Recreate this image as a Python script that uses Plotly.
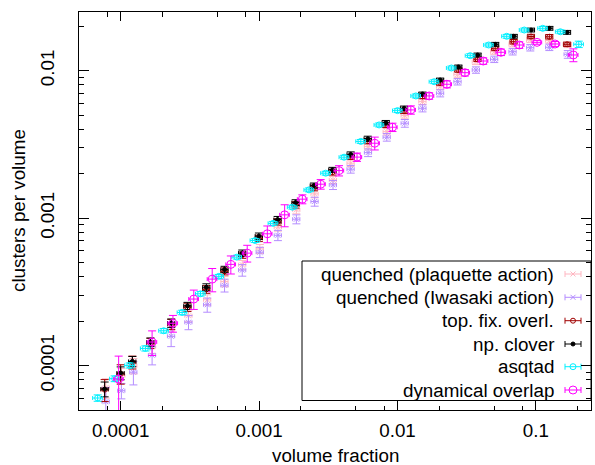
import plotly.graph_objects as go

# ---------------- data ----------------
QP_X = [7.81e-5, 1.012e-4, 1.236e-4, 1.687e-4, 2.316e-4, 3.09e-4, 4.22e-4, 5.63e-4, 7.56e-4, 1.013e-3,
        1.368e-3, 1.859e-3, 2.52e-3, 3.42e-3, 4.59e-3, 6.13e-3, 8.37e-3, 1.129e-2, 1.516e-2, 2.034e-2,
        2.718e-2, 3.687e-2, 5.0e-2, 6.79e-2, 9.11e-2, 0.125, 0.1699]
QP_Y = [7.08e-5, 8.54e-5, 9.98e-5, 1.343e-4, 1.750e-4, 2.178e-4, 2.796e-4, 3.72e-4, 4.83e-4, 6.19e-4,
        8.69e-4, 1.138e-3, 1.461e-3, 1.817e-3, 2.359e-3, 3.055e-3, 3.86e-3, 4.96e-3, 6.17e-3, 7.79e-3,
        9.45e-3, 1.151e-2, 1.345e-2, 1.510e-2, 1.614e-2, 1.602e-2, 1.493e-2]
QP_YERR = [0.15, 0.12, 0.12, 0.10, 0.10, 0.09, 0.08, 0.08, 0.07, 0.07, 0.06, 0.06, 0.06, 0.055, 0.05,
           0.05, 0.05, 0.05, 0.045, 0.045, 0.045, 0.045, 0.04, 0.04, 0.04, 0.04, 0.04]

QI_X = [7.81e-5, 1.012e-4, 1.236e-4, 1.687e-4, 2.316e-4, 3.09e-4, 4.22e-4, 5.63e-4, 7.56e-4, 1.013e-3,
        1.368e-3, 1.859e-3, 2.52e-3, 3.42e-3, 4.59e-3, 6.13e-3, 8.37e-3, 1.129e-2, 1.516e-2, 2.034e-2,
        2.718e-2, 3.687e-2, 5.0e-2, 6.79e-2, 9.11e-2, 0.125, 0.1699]
QI_Y = [5.69e-5, 6.76e-5, 9.02e-5, 1.176e-4, 1.582e-4, 1.968e-4, 2.586e-4, 3.505e-4, 4.44e-4, 5.87e-4,
        7.65e-4, 9.84e-4, 1.296e-3, 1.681e-3, 2.148e-3, 2.781e-3, 3.54e-3, 4.40e-3, 5.56e-3, 7.03e-3,
        8.42e-3, 1.011e-2, 1.195e-2, 1.345e-2, 1.432e-2, 1.441e-2, 1.291e-2]
QI_YERR = [0.25, 0.12, 0.18, 0.14, 0.15, 0.11, 0.11, 0.10, 0.09, 0.08, 0.08, 0.07, 0.07, 0.07, 0.06,
           0.06, 0.06, 0.06, 0.055, 0.055, 0.05, 0.05, 0.05, 0.05, 0.05, 0.05, 0.06]

TF_X = [7.66e-5, 1.00e-4, 1.215e-4, 1.64e-4, 2.32e-4, 3.04e-4, 4.16e-4, 5.63e-4, 7.56e-4, 9.97e-4,
        1.361e-3, 1.837e-3, 2.49e-3, 3.39e-3, 4.59e-3, 6.10e-3, 8.23e-3, 1.116e-2, 1.516e-2, 2.034e-2,
        2.754e-2, 3.79e-2, 5.08e-2, 6.91e-2, 9.22e-2, 0.1250, 0.1680]
TF_Y = [6.87e-5, 8.81e-5, 1.054e-4, 1.418e-4, 1.908e-4, 2.487e-4, 3.29e-4, 4.36e-4, 5.62e-4, 7.30e-4,
        9.44e-4, 1.231e-3, 1.604e-3, 2.05e-3, 2.602e-3, 3.324e-3, 4.286e-3, 5.33e-3, 6.69e-3, 8.25e-3,
        1.011e-2, 1.195e-2, 1.418e-2, 1.572e-2, 1.705e-2, 1.699e-2, 1.510e-2]
TF_YERR = [0.17, 0.15, 0.10, 0.08, 0.08, 0.065, 0.06, 0.055, 0.05, 0.05, 0.05, 0.05, 0.045, 0.045, 0.04,
           0.04, 0.04, 0.04, 0.035, 0.035, 0.035, 0.035, 0.035, 0.035, 0.035, 0.035, 0.035]

NP_X = [7.66e-5, 1.00e-4, 1.215e-4, 1.64e-4, 2.32e-4, 3.04e-4, 4.16e-4, 5.63e-4, 7.56e-4, 9.97e-4,
        1.361e-3, 1.837e-3, 2.49e-3, 3.39e-3, 4.59e-3, 6.10e-3, 8.23e-3, 1.116e-2, 1.516e-2, 2.034e-2,
        2.754e-2, 3.79e-2, 5.08e-2, 6.91e-2, 9.22e-2, 0.1250, 0.1680]
NP_Y = [6.94e-5, 8.91e-5, 1.068e-4, 1.445e-4, 1.943e-4, 2.545e-4, 3.40e-4, 4.49e-4, 5.79e-4, 7.55e-4,
        9.78e-4, 1.276e-3, 1.663e-3, 2.125e-3, 2.705e-3, 3.456e-3, 4.44e-3, 5.56e-3, 6.95e-3, 8.65e-3,
        1.060e-2, 1.278e-2, 1.510e-2, 1.711e-2, 1.887e-2, 1.938e-2, 1.820e-2]
NP_YERR = [0.115, 0.10, 0.08, 0.065, 0.065, 0.055, 0.055, 0.05, 0.05, 0.05, 0.05, 0.045, 0.04, 0.04, 0.04,
           0.04, 0.035, 0.035, 0.03, 0.03, 0.03, 0.03, 0.03, 0.03, 0.03, 0.03, 0.03]

AS_X = [6.82e-5, 9.05e-5, 1.162e-4, 1.509e-4, 2.047e-4, 2.782e-4, 3.774e-4, 5.12e-4, 6.91e-4, 9.36e-4,
        1.263e-3, 1.739e-3, 2.293e-3, 3.03e-3, 4.11e-3, 5.43e-3, 7.36e-3, 1.0e-2, 1.357e-2, 1.840e-2,
        2.451e-2, 3.353e-2, 4.555e-2, 6.15e-2, 8.24e-2, 0.1120, 0.1502, 0.2040]
AS_Y = [6.03e-5, 8.15e-5, 1.003e-4, 1.308e-4, 1.723e-4, 2.293e-4, 3.07e-4, 4.03e-4, 5.44e-4, 7.05e-4,
        9.22e-4, 1.187e-3, 1.555e-3, 2.018e-3, 2.59e-3, 3.314e-3, 4.286e-3, 5.36e-3, 6.74e-3, 8.42e-3,
        1.043e-2, 1.264e-2, 1.493e-2, 1.711e-2, 1.887e-2, 1.938e-2, 1.837e-2, 1.510e-2]
AS_YERR = [0.05, 0.045, 0.04, 0.04, 0.035, 0.035, 0.035, 0.03, 0.03, 0.03, 0.03, 0.03, 0.03, 0.03, 0.03,
           0.03, 0.03, 0.03, 0.03, 0.03, 0.03, 0.03, 0.03, 0.03, 0.03, 0.03, 0.03, 0.05]

DO_X = [9.67e-5, 1.687e-4, 2.386e-4, 3.375e-4, 4.585e-4, 6.25e-4, 8.21e-4, 1.147e-3, 1.530e-3, 2.054e-3,
        2.786e-3, 3.78e-3, 5.10e-3, 6.85e-3, 9.20e-3, 1.248e-2, 1.693e-2, 2.274e-2, 3.069e-2, 4.163e-2,
        5.59e-2, 7.59e-2, 0.1019, 0.1375, 0.1865]
DO_Y = [8.11e-5, 1.445e-4, 1.937e-4, 2.827e-4, 3.86e-4, 4.86e-4, 5.79e-4, 7.83e-4, 1.053e-3, 1.345e-3,
        1.699e-3, 2.101e-3, 2.594e-3, 3.222e-3, 4.135e-3, 5.42e-3, 6.74e-3, 8.09e-3, 9.69e-3, 1.163e-2,
        1.333e-2, 1.493e-2, 1.557e-2, 1.517e-2, 1.278e-2]
DO_YERR = [0.43, 0.19, 0.13, 0.15, 0.18, 0.14, 0.13, 0.13, 0.17, 0.07, 0.075, 0.08, 0.065, 0.10, 0.065,
           0.065, 0.05, 0.055, 0.05, 0.05, 0.05, 0.05, 0.03, 0.04, 0.10]

# relative half-width of the horizontal (volume-fraction) error bars per series
XERR_REL = {"qp": 0.06, "qi": 0.06, "tf": 0.06, "np": 0.06, "as": 0.08, "do": 0.08}

NAMES = ["quenched (plaquette action)", "quenched (Iwasaki action)", "top. fix. overl.",
         "np. clover", "asqtad", "dynamical overlap"]

X_TICKS = [1e-4, 1e-3, 1e-2, 1e-1]
X_TICKTEXT = ["0.0001", "0.001", "0.01", "0.1"]
Y_TICKS = [1e-4, 1e-3, 1e-2]
Y_TICKTEXT = ["0.0001", "0.001", "0.01"]
X_MINOR = [8e-5, 2e-4, 5e-4, 8e-4, 2e-3, 5e-3, 8e-3, 2e-2, 5e-2, 8e-2, 2e-1]
Y_MINOR = [m * d for d in (1e-5, 1e-4, 1e-3) for m in range(2, 10)] + [2e-2]
Y_MINOR = [v for v in Y_MINOR if v >= 5e-5]

# ---------------- styling ----------------
FONT = "Liberation Sans, Arial, Helvetica, sans-serif"
FS = 18.8
STYLES = [
    dict(key="qp", color="#ffb6c1", symbol="x-thin-open", size=5),
    dict(key="qi", color="#b48cff", symbol="x-thin-open", size=5),
    dict(key="tf", color="#a00000", symbol="circle-open", size=5),
    dict(key="np", color="#000000", symbol="circle", size=4),
    dict(key="as", color="#00f0ff", symbol="circle-open", size=6),
    dict(key="do", color="#ff00ff", symbol="circle-open", size=8),
]
SERIES = [(QP_X, QP_Y, QP_YERR), (QI_X, QI_Y, QI_YERR), (TF_X, TF_Y, TF_YERR),
          (NP_X, NP_Y, NP_YERR), (AS_X, AS_Y, AS_YERR), (DO_X, DO_Y, DO_YERR)]

fig = go.Figure()
for (xs, ys, yerr), st, name in zip(SERIES, STYLES, NAMES):
    xr = XERR_REL[st["key"]]
    fig.add_trace(go.Scatter(
        x=xs, y=ys, mode="markers", name=name, showlegend=False,
        marker=dict(symbol=st["symbol"], size=st["size"], color=st["color"],
                    line=dict(color=st["color"], width=1)),
        error_x=dict(type="data", array=[x * xr for x in xs], color=st["color"],
                     thickness=1, width=2),
        error_y=dict(type="data", array=[y * e for y, e in zip(ys, yerr)], color=st["color"],
                     thickness=1, width=4),
    ))

# ---------------- gnuplot-style key (text right, sample right) ----------------
L, R, T, B = 79, 4, 12, 55
PW, PH = 595 - L - R, 465 - T - B


def px2paper_x(px):
    return (px - L) / PW


def px2paper_y(py):
    return (465 - B - py) / PH


row_py = [274, 297.3, 320.7, 344, 366.7, 390]
for name, st, py in zip(NAMES, STYLES, row_py):
    fig.add_annotation(x=px2paper_x(556), y=px2paper_y(py), xref="paper", yref="paper",
                       text=name, showarrow=False, xanchor="right", yanchor="middle",
                       font=dict(family=FONT, size=FS, color="black"))
    fig.add_trace(go.Scatter(
        x=[px2paper_x(573)], y=[px2paper_y(py)], xaxis="x3", yaxis="y3",
        mode="markers", showlegend=False, hoverinfo="skip",
        marker=dict(symbol=st["symbol"], size=st["size"], color=st["color"],
                    line=dict(color=st["color"], width=1)),
        error_x=dict(type="constant", value=8 / PW, color=st["color"], thickness=1, width=3),
    ))

fig.add_shape(type="rect", xref="paper", yref="paper",
              x0=px2paper_x(302), x1=1.0, y0=px2paper_y(400.5), y1=px2paper_y(261),
              line=dict(color="black", width=1), fillcolor="white", layer="below")

# axis titles placed as text
fig.add_annotation(x=0.5, y=px2paper_y(455), xref="paper", yref="paper", text="volume fraction",
                   showarrow=False, xanchor="center", yanchor="middle",
                   font=dict(family=FONT, size=FS, color="black"))
fig.add_annotation(x=px2paper_x(18), y=px2paper_y(211), xref="paper", yref="paper",
                   text="clusters per volume", textangle=-90,
                   showarrow=False, xanchor="center", yanchor="middle",
                   font=dict(family=FONT, size=FS, color="black"))

axis_common = dict(type="log", showgrid=False, zeroline=False, showline=True, linecolor="black",
                   linewidth=1, mirror="ticks", ticks="inside", tickcolor="black", tickwidth=1,
                   automargin=False,
                   tickfont=dict(family=FONT, size=FS, color="black"))

fig.update_layout(
    width=595, height=465,
    margin=dict(l=L, r=R, t=T, b=B, pad=0),
    paper_bgcolor="white", plot_bgcolor="white",
    font=dict(family=FONT, size=FS, color="black"),
    xaxis=dict(axis_common, range=[-4.30103, -0.60206], tickmode="array", tickvals=X_TICKS,
               ticktext=X_TICKTEXT, ticklen=9, ticklabelstandoff=3,
               minor=dict(tickmode="array", tickvals=X_MINOR, ticks="inside", ticklen=4.5,
                          tickcolor="black", tickwidth=1)),
    yaxis=dict(axis_common, range=[-4.30103, -1.60206], tickmode="array", tickvals=Y_TICKS,
               ticktext=Y_TICKTEXT, ticklen=10, tickangle=-90, ticklabelstandoff=16,
               minor=dict(tickmode="array", tickvals=Y_MINOR, ticks="inside", ticklen=5,
                          tickcolor="black", tickwidth=1)),
    xaxis3=dict(overlaying="x", anchor="y3", range=[0, 1], visible=False, fixedrange=True),
    yaxis3=dict(overlaying="y", anchor="x3", range=[0, 1], visible=False, fixedrange=True),
)

fig.write_html("out.html", config={"displayModeBar": False},
               post_script="document.body.style.margin='0';document.body.style.overflow='hidden';")
